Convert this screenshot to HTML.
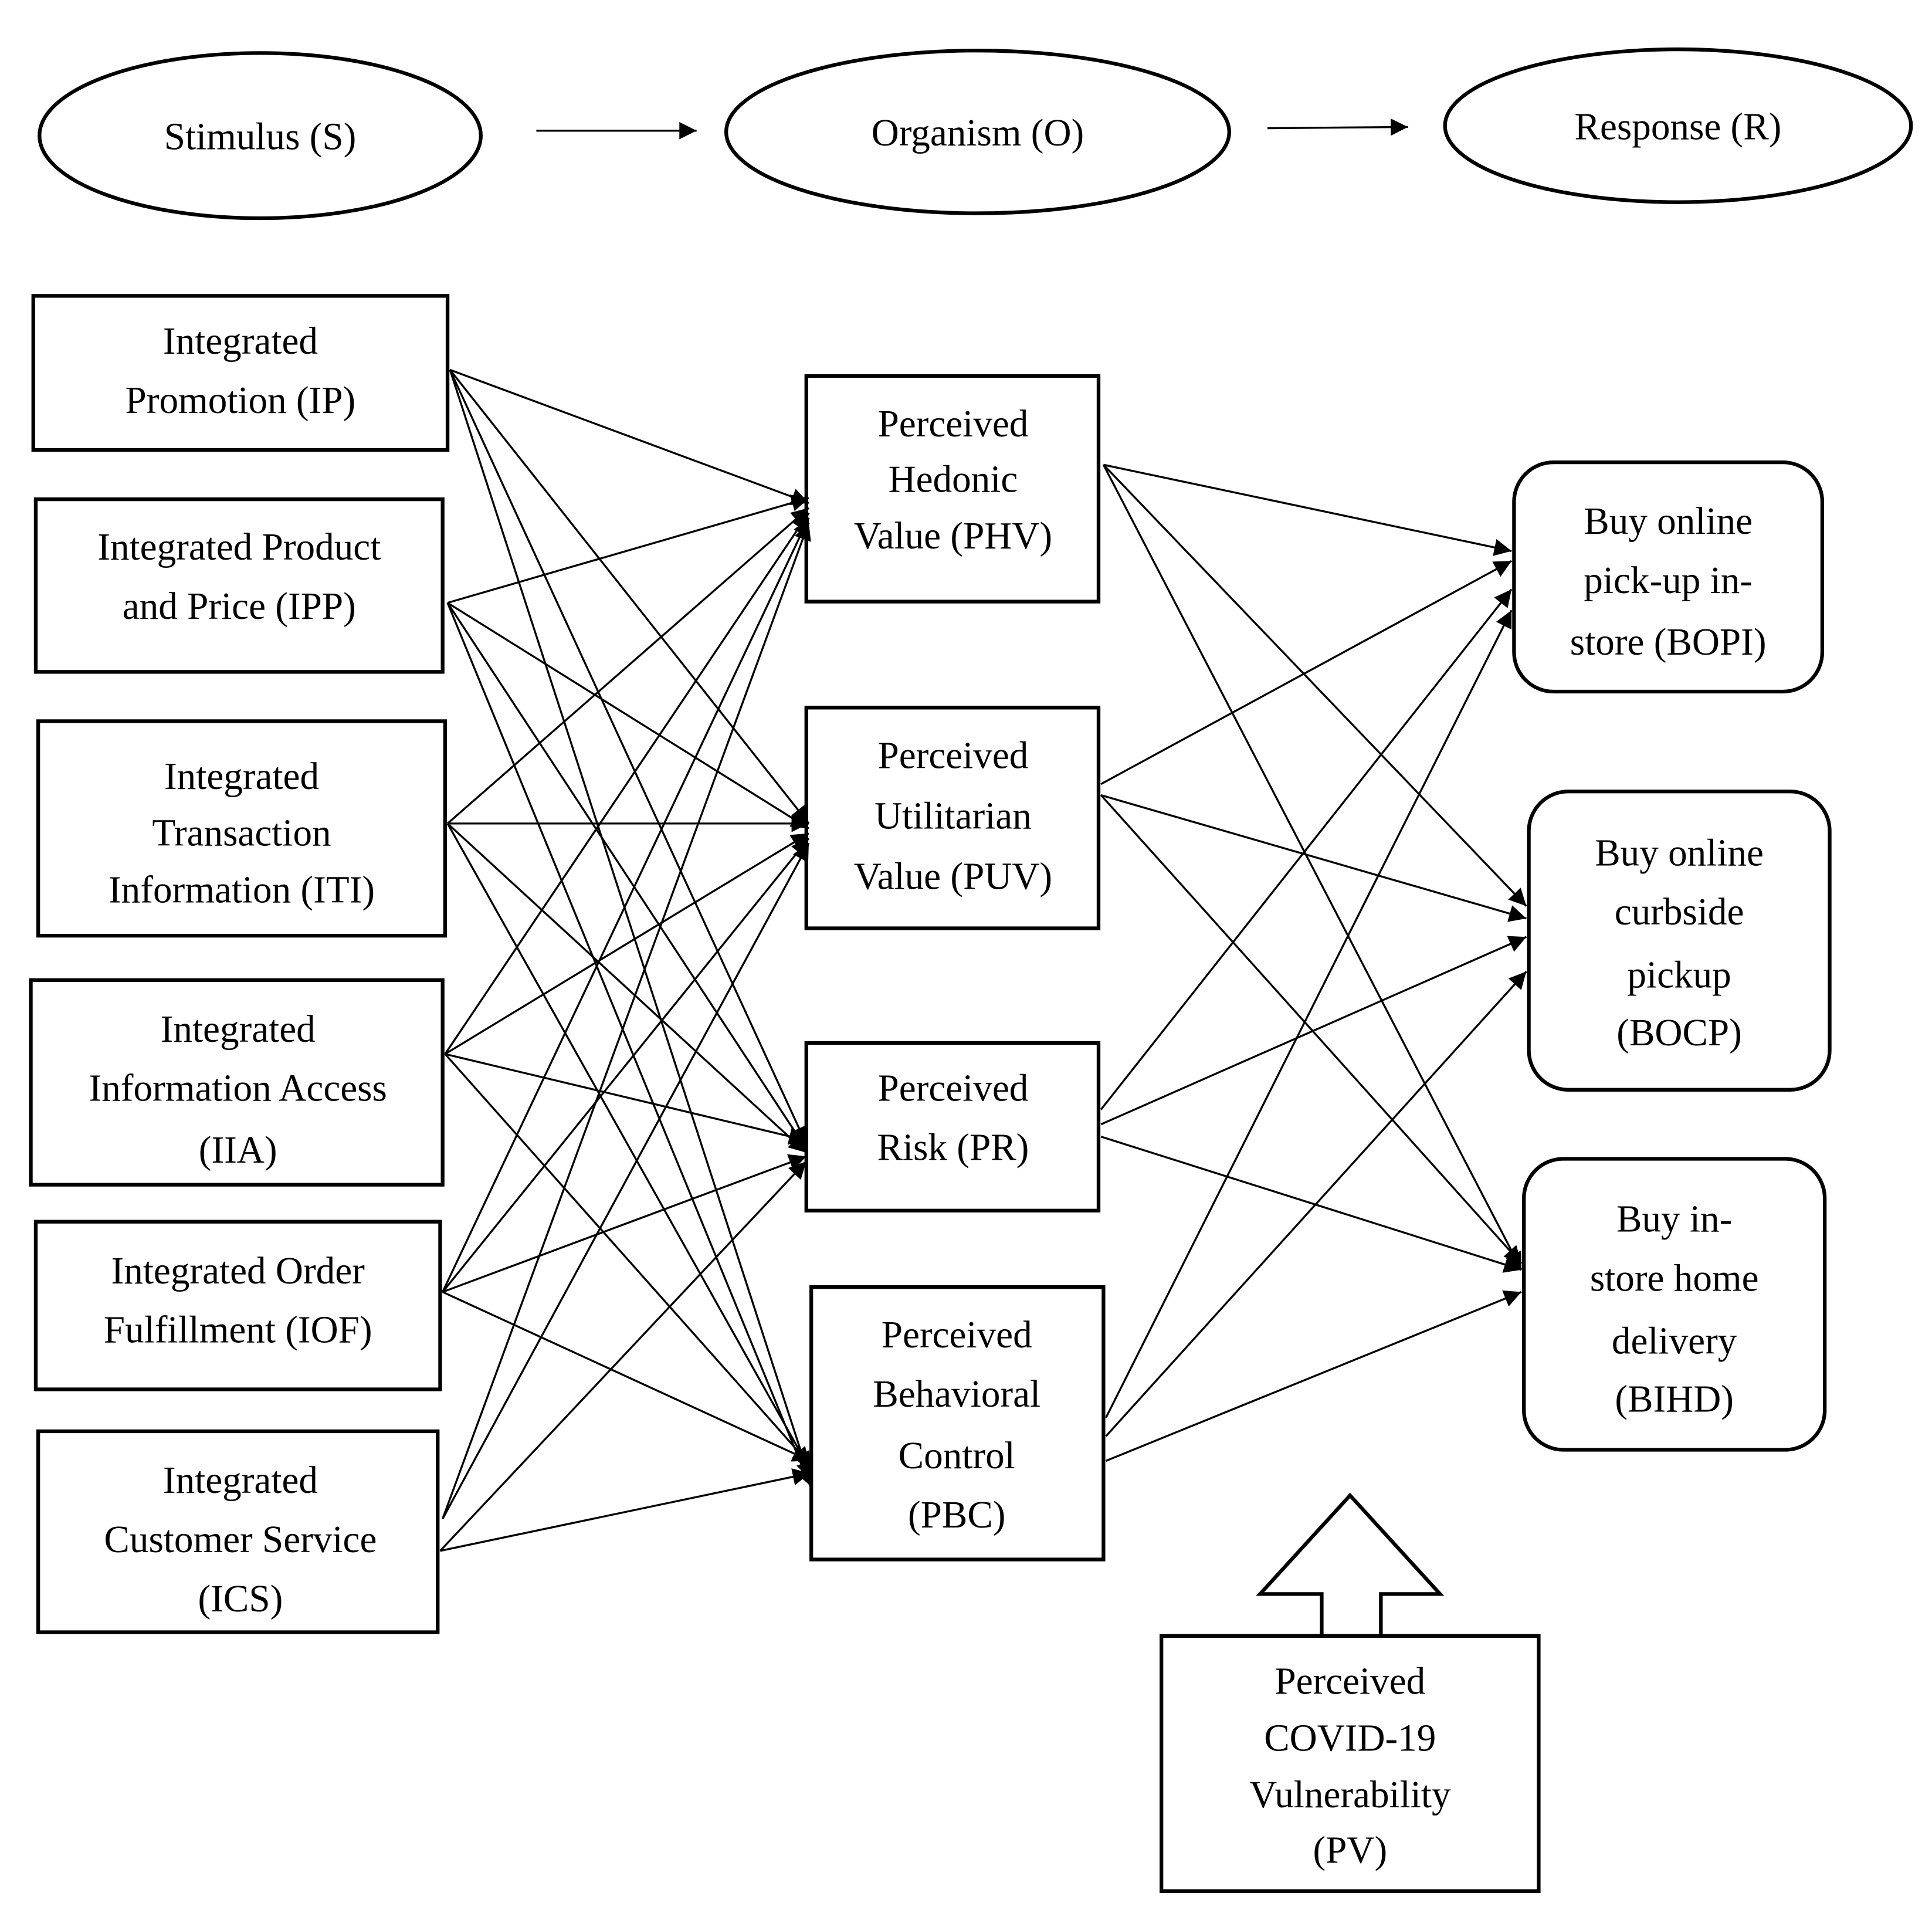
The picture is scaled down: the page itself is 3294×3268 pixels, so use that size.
<!DOCTYPE html>
<html><head><style>html,body{margin:0;padding:0;background:#fff}svg{display:block}</style></head>
<body>
<svg width="3294" height="3268" viewBox="0 0 1567 1555" preserveAspectRatio="none" xmlns="http://www.w3.org/2000/svg" font-family="Liberation Serif, serif" font-size="31" text-anchor="middle" fill="#000">
<defs>
<marker id="a" viewBox="0 0 10 10" refX="10" refY="5" markerWidth="17" markerHeight="14" markerUnits="userSpaceOnUse" orient="auto"><path d="M0,0L10,5L0,10z" fill="#000"/></marker>
</defs>
<g fill="none" stroke="#000" stroke-width="3">
<ellipse cx="211" cy="110" rx="179" ry="67"/>
<ellipse cx="793" cy="107" rx="204" ry="66"/>
<ellipse cx="1361" cy="102" rx="189" ry="62"/>
<rect x="27" y="240" width="336" height="125"/>
<rect x="29" y="405" width="330" height="140"/>
<rect x="31" y="585" width="330" height="174"/>
<rect x="25" y="795" width="334" height="166"/>
<rect x="29" y="991" width="328" height="136"/>
<rect x="31" y="1161" width="324" height="163"/>
<rect x="654" y="305" width="237" height="183"/>
<rect x="654" y="574" width="237" height="179"/>
<rect x="654" y="846" width="237" height="136"/>
<rect x="658" y="1044" width="237" height="221"/>
<rect x="1228" y="375" width="250" height="186" rx="32"/>
<rect x="1240" y="642" width="244" height="242" rx="32"/>
<rect x="1236" y="940" width="244" height="236" rx="32"/>
<rect x="942" y="1327" width="306" height="207"/>
<path d="M1072,1327V1293H1022L1095,1213L1168,1293H1120V1327"/>
</g>
<g stroke="#000" stroke-width="1.6" fill="none" marker-end="url(#a)">
<line x1="435" y1="106" x2="565" y2="106"/>
<line x1="1028" y1="104" x2="1142" y2="103"/>
<line x1="365" y1="300" x2="656" y2="408"/>
<line x1="365" y1="300" x2="656" y2="668"/>
<line x1="365" y1="300" x2="654" y2="928"/>
<line x1="365" y1="300" x2="657" y2="1200"/>
<line x1="363" y1="489" x2="656" y2="404"/>
<line x1="363" y1="489" x2="656" y2="672"/>
<line x1="363" y1="489" x2="654" y2="932"/>
<line x1="363" y1="489" x2="657" y2="1205"/>
<line x1="363" y1="668" x2="656" y2="412"/>
<line x1="363" y1="668" x2="656" y2="668"/>
<line x1="363" y1="668" x2="654" y2="935"/>
<line x1="363" y1="668" x2="657" y2="1192"/>
<line x1="361" y1="855" x2="656" y2="416"/>
<line x1="361" y1="855" x2="656" y2="676"/>
<line x1="361" y1="855" x2="654" y2="925"/>
<line x1="361" y1="855" x2="657" y2="1188"/>
<line x1="359" y1="1048" x2="656" y2="420"/>
<line x1="359" y1="1048" x2="656" y2="680"/>
<line x1="359" y1="1048" x2="654" y2="938"/>
<line x1="359" y1="1048" x2="657" y2="1185"/>
<line x1="359" y1="1232" x2="656" y2="424"/>
<line x1="359" y1="1232" x2="656" y2="684"/>
<line x1="357" y1="1258" x2="654" y2="942"/>
<line x1="357" y1="1258" x2="657" y2="1195"/>
<line x1="895" y1="377" x2="1226" y2="447"/>
<line x1="895" y1="377" x2="1238" y2="735"/>
<line x1="895" y1="377" x2="1234" y2="1030"/>
<line x1="893" y1="636" x2="1226" y2="455"/>
<line x1="893" y1="645" x2="1238" y2="745"/>
<line x1="893" y1="645" x2="1234" y2="1025"/>
<line x1="893" y1="900" x2="1226" y2="478"/>
<line x1="893" y1="912" x2="1238" y2="760"/>
<line x1="893" y1="922" x2="1234" y2="1030"/>
<line x1="897" y1="1150" x2="1226" y2="495"/>
<line x1="897" y1="1165" x2="1238" y2="788"/>
<line x1="897" y1="1185" x2="1234" y2="1048"/>
</g>
<g>
<text x="211" y="121">Stimulus (S)</text>
<text x="793" y="118">Organism (O)</text>
<text x="1361" y="113">Response (R)</text>
<text x="195" y="287">Integrated</text>
<text x="195" y="335">Promotion (IP)</text>
<text x="194" y="454">Integrated Product</text>
<text x="194" y="502">and Price (IPP)</text>
<text x="196" y="640">Integrated</text>
<text x="196" y="686">Transaction</text>
<text x="196" y="732">Information (ITI)</text>
<text x="193" y="845">Integrated</text>
<text x="193" y="893">Information Access</text>
<text x="193" y="943">(IIA)</text>
<text x="193" y="1041">Integrated Order</text>
<text x="193" y="1089">Fulfillment (IOF)</text>
<text x="195" y="1211">Integrated</text>
<text x="195" y="1259">Customer Service</text>
<text x="195" y="1307">(ICS)</text>
<text x="773" y="354">Perceived</text>
<text x="773" y="399">Hedonic</text>
<text x="773" y="445">Value (PHV)</text>
<text x="773" y="623">Perceived</text>
<text x="773" y="672">Utilitarian</text>
<text x="773" y="721">Value (PUV)</text>
<text x="773" y="893">Perceived</text>
<text x="773" y="941">Risk (PR)</text>
<text x="776" y="1093">Perceived</text>
<text x="776" y="1141">Behavioral</text>
<text x="776" y="1191">Control</text>
<text x="776" y="1239">(PBC)</text>
<text x="1353" y="433">Buy online</text>
<text x="1353" y="481">pick-up in-</text>
<text x="1353" y="531">store (BOPI)</text>
<text x="1362" y="702">Buy online</text>
<text x="1362" y="750">curbside</text>
<text x="1362" y="801">pickup</text>
<text x="1362" y="848">(BOCP)</text>
<text x="1358" y="999">Buy in-</text>
<text x="1358" y="1047">store home</text>
<text x="1358" y="1098">delivery</text>
<text x="1358" y="1145">(BIHD)</text>
<text x="1095" y="1374">Perceived</text>
<text x="1095" y="1420">COVID-19</text>
<text x="1095" y="1466">Vulnerability</text>
<text x="1095" y="1511">(PV)</text>
</g>
</svg>
</body></html>
